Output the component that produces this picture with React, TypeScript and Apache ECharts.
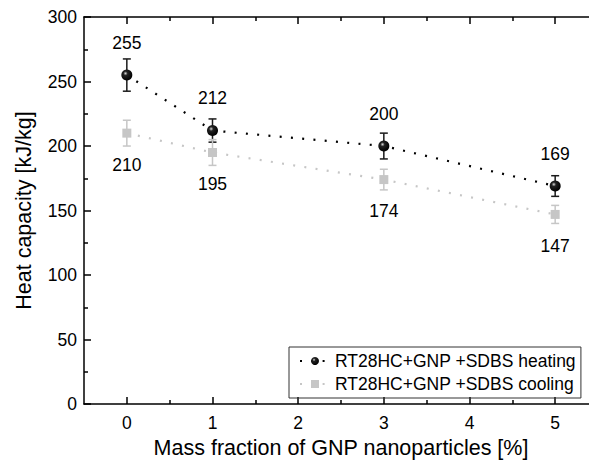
import React, { useEffect, useRef } from "react";
import * as echarts from "echarts";

const xValues = [0, 1, 3, 5];
const heating = [255, 212, 200, 169];
const heatingErr = [12.5, 9, 10, 8];
const cooling = [210, 195, 174, 147];
const coolingErr = [10, 10, 8, 7];
const xTicks = [0, 1, 2, 3, 4, 5];
const xMinorTicks = [0.5, 1.5, 2.5, 3.5, 4.5];
const heatName = "RT28HC+GNP +SDBS heating";
const coolName = "RT28HC+GNP +SDBS cooling";

const FONT = "'Liberation Sans', Arial, sans-serif";
const GRAY = "#c6c6c6";

function errSeries(vals: number[], errs: number[], color: string) {
  return {
    type: "custom",
    z: 1,
    silent: true,
    data: xValues.map((x, i) => [x, vals[i] - errs[i], vals[i] + errs[i]]),
    renderItem: (params: any, api: any) => {
      const lo = api.coord([api.value(0), api.value(1)]);
      const hi = api.coord([api.value(0), api.value(2)]);
      const w = 4;
      const style = { stroke: color, lineWidth: 1.5 };
      return {
        type: "group",
        children: [
          { type: "line", shape: { x1: lo[0], y1: lo[1], x2: hi[0], y2: hi[1] }, style },
          { type: "line", shape: { x1: lo[0] - w, y1: lo[1], x2: lo[0] + w, y2: lo[1] }, style },
          { type: "line", shape: { x1: hi[0] - w, y1: hi[1], x2: hi[0] + w, y2: hi[1] }, style },
        ],
      };
    },
  };
}

export default function App() {
  const ref = useRef<HTMLDivElement>(null);
  useEffect(() => {
    if (!ref.current) return;
    const chart = echarts.init(ref.current, undefined, { renderer: "svg" });
    const ball = new echarts.graphic.RadialGradient(0.38, 0.35, 0.65, [
      { offset: 0, color: "#d8d8d8" },
      { offset: 0.3, color: "#222" },
      { offset: 1, color: "#000" },
    ]);
    const baseX = {
      type: "value",
      min: -0.5,
      max: 5.5,
      splitLine: { show: false },
      gridIndex: 0,
    };
    chart.setOption({
      animation: false,
      textStyle: { fontFamily: FONT },
      grid: { left: 84, right: 2, top: 17, bottom: 59, containLabel: false },
      legend: {
        orient: "vertical",
        left: 289,
        top: 347,
        padding: [5, 5, 5, 10],
        itemGap: 5,
        itemWidth: 30,
        itemHeight: 10,
        borderColor: "#333",
        borderWidth: 1,
        textStyle: { fontSize: 17.5, color: "#000", fontFamily: FONT },
        data: [heatName, coolName],
      },
      xAxis: [
        {
          ...baseX,
          position: "bottom",
          name: "Mass fraction of GNP nanoparticles [%]",
          nameLocation: "middle",
          nameGap: 22,
          nameTextStyle: { fontSize: 21.5, color: "#000", fontFamily: FONT },
          axisLine: { show: true, onZero: false, lineStyle: { color: "#000", width: 1.5 } },
          axisTick: { show: true, inside: true, length: 7, customValues: xTicks, lineStyle: { color: "#000", width: 1.5 } },
          axisLabel: { show: true, customValues: xTicks, fontSize: 17.5, color: "#000", margin: 10, fontFamily: FONT },
        },
        {
          ...baseX,
          position: "bottom",
          axisLine: { show: false, onZero: false },
          axisTick: { show: true, inside: true, length: 4, customValues: xMinorTicks, lineStyle: { color: "#000", width: 1.5 } },
          axisLabel: { show: false },
        },
        {
          ...baseX,
          position: "top",
          axisLine: { show: true, onZero: false, lineStyle: { color: "#000", width: 1.5 } },
          axisTick: { show: true, inside: true, length: 7, customValues: xTicks, lineStyle: { color: "#000", width: 1.5 } },
          axisLabel: { show: false },
        },
        {
          ...baseX,
          position: "top",
          axisLine: { show: false, onZero: false },
          axisTick: { show: true, inside: true, length: 4, customValues: xMinorTicks, lineStyle: { color: "#000", width: 1.5 } },
          axisLabel: { show: false },
        },
      ],
      yAxis: {
        type: "value",
        min: 0,
        max: 300,
        interval: 50,
        position: "left",
        name: "Heat capacity [kJ/kg]",
        nameLocation: "middle",
        nameGap: 49,
        nameTextStyle: { fontSize: 21.5, color: "#000", fontFamily: FONT },
        splitLine: { show: false },
        axisLine: { show: true, onZero: false, lineStyle: { color: "#000", width: 1.5 } },
        axisTick: { show: true, inside: true, length: 7, lineStyle: { color: "#000", width: 1.5 } },
        minorTick: { show: true, splitNumber: 2, length: 4, lineStyle: { color: "#000", width: 1.5 } },
        axisLabel: { fontSize: 17.5, color: "#000", margin: 7, fontFamily: FONT },
      },
      series: [
        errSeries(heating, heatingErr, "#1a1a1a"),
        errSeries(cooling, coolingErr, GRAY),
        {
          name: heatName,
          type: "line",
          z: 3,
          data: xValues.map((x, i) => [x, heating[i]]),
          symbol: "circle",
          symbolSize: 11,
          itemStyle: { color: ball, borderWidth: 0 },
          lineStyle: { color: "#000", width: 2.2, type: [2, 9.3] },
          label: { show: true, position: "top", distance: 18, fontSize: 17.5, color: "#000", fontFamily: FONT },
        },
        {
          name: coolName,
          type: "line",
          z: 2,
          data: xValues.map((x, i) => [x, cooling[i]]),
          symbol: "rect",
          symbolSize: 9,
          itemStyle: { color: GRAY, borderWidth: 0 },
          lineStyle: { color: GRAY, width: 2.2, type: [2, 9.3] },
          label: { show: true, position: "bottom", distance: 18, fontSize: 17.5, color: "#000", fontFamily: FONT },
        },
      ],
    });
    return () => chart.dispose();
  }, []);
  return (
    <div style={{ position: "fixed", left: 0, top: 0, width: 589, height: 464, overflow: "hidden", background: "#fff" }}>
      <div ref={ref} style={{ width: 600, height: 464 }} />
    </div>
  );
}
